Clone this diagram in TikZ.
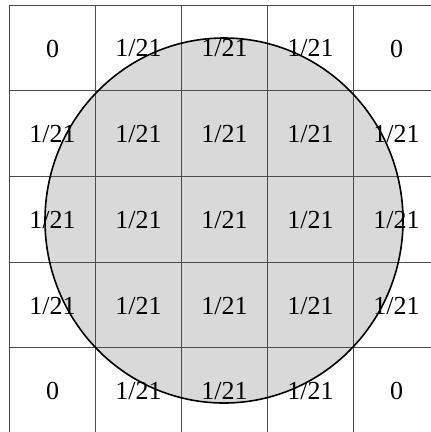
\documentclass[tikz,border=0pt]{standalone}
\usepackage{fontspec}
\setmainfont{Liberation Serif}
\begin{document}
\begin{tikzpicture}[x=1pt,y=-1pt,
  gridline/.style={draw=black!70,line width=0.9pt},
  disc/.style={fill=black!15},
  rim/.style={draw=black,line width=1.6pt},
  val/.style={font=\fontsize{26}{26}\selectfont,inner sep=0pt}]
\useasboundingbox (0,0) rectangle (431,432);
\clip (0,0) rectangle (431,432);
\fill[white] (0,0) rectangle (431,432);
% shaded disc
\path[disc] (224,220.5) ellipse [x radius=179, y radius=182.5];
% grid
\foreach \i in {0,...,5}{
  \draw[gridline] ({9.5+86*\i},5) -- ({9.5+86*\i},440);
  \draw[gridline] (9.5,{5+85.7*\i}) -- (445,{5+85.7*\i});
}
% values
\foreach \r/\c/\t in {
 0/0/0, 0/1/1\slash21, 0/2/1\slash21, 0/3/1\slash21, 0/4/0,
 1/0/1\slash21, 1/1/1\slash21, 1/2/1\slash21, 1/3/1\slash21, 1/4/1\slash21,
 2/0/1\slash21, 2/1/1\slash21, 2/2/1\slash21, 2/3/1\slash21, 2/4/1\slash21,
 3/0/1\slash21, 3/1/1\slash21, 3/2/1\slash21, 3/3/1\slash21, 3/4/1\slash21,
 4/0/0, 4/1/1\slash21, 4/2/1\slash21, 4/3/1\slash21, 4/4/0}{
  \node[val] (c-\r-\c) at ({52.5+86*\c},{48.5+85.7*\r}) {\t};
}
% circle outline
\draw[rim] (224,220.5) ellipse [x radius=179, y radius=182.5];
\end{tikzpicture}
\end{document}
